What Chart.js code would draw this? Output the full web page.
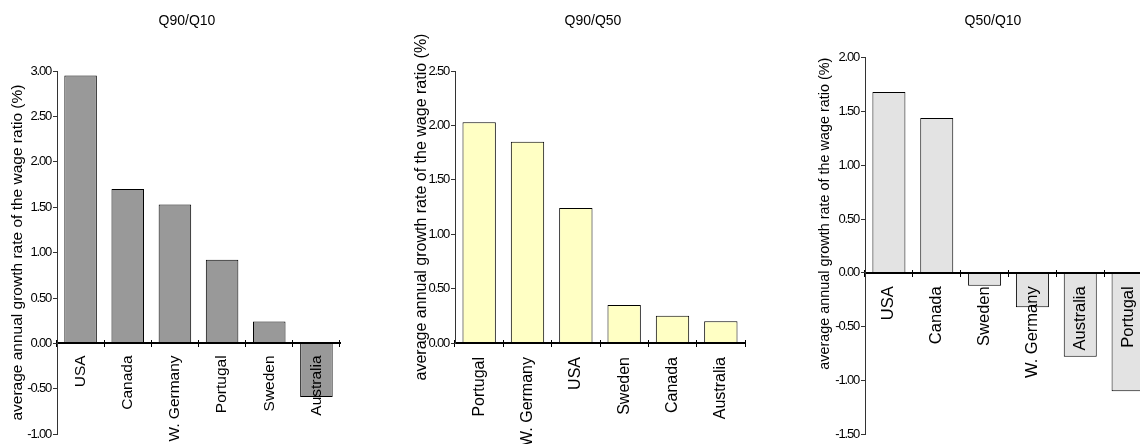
<!DOCTYPE html>
<html lang="en">
<head>
<meta charset="UTF-8">
<title>Growth of wage ratios</title>
<style>
  html, body { margin: 0; padding: 0; background: #fff; }
  body { position: relative; width: 1140px; height: 444px; overflow: hidden; }
  .panel { position: absolute; top: 0; }
  .panel canvas { display: block; }
</style>
</head>
<body>
<div class="panel" style="left:0px"><canvas id="chartQ9010" width="380" height="444"></canvas></div>
<div class="panel" style="left:380px"><canvas id="chartQ9050" width="380" height="444"></canvas></div>
<div class="panel" style="left:760px"><canvas id="chartQ5010" width="400" height="444"></canvas></div>

<script src="https://cdn.jsdelivr.net/npm/chart.js"></script>
<script>
// data
const q9010Countries = ['USA', 'Canada', 'W. Germany', 'Portugal', 'Sweden', 'Australia'];
const q9010Values = [2.95, 1.70, 1.53, 0.92, 0.24, -0.59];

const q9050Countries = ['Portugal', 'W. Germany', 'USA', 'Sweden', 'Canada', 'Australia'];
const q9050Values = [2.03, 1.85, 1.24, 0.35, 0.25, 0.20];

const q5010Countries = ['USA', 'Canada', 'Sweden', 'W. Germany', 'Australia', 'Portugal'];
const q5010Values = [1.68, 1.44, -0.12, -0.32, -0.78, -1.10];

const yAxisTitle = 'average annual growth rate of the wage ratio (%)';
const sansFont = '"Liberation Sans", Arial, sans-serif';

// heading above each panel
const panelTitle = {
    id: 'panelTitle',
    afterDraw(chart, args, opts) {
        const ctx = chart.ctx;
        ctx.save();
        ctx.letterSpacing = '0px';
        ctx.font = '14px ' + sansFont;
        ctx.fillStyle = '#000';
        ctx.textAlign = 'center';
        ctx.textBaseline = 'middle';
        ctx.fillText(opts.text, opts.x, opts.y);
        ctx.restore();
    }
};

// the value labels in the original are squeezed together ("3.00" looks like "300")
// everything drawn before the bars gets tight spacing, the rest is normal
const tightTicks = {
    id: 'tightTicks',
    beforeDraw(chart) { chart.ctx.letterSpacing = '-1.2px'; },
    beforeDatasetsDraw(chart) { chart.ctx.letterSpacing = '0px'; }
};

function buildChart(canvasId, p) {
    const ctx = document.getElementById(canvasId).getContext('2d');
    return new Chart(ctx, {
        type: 'bar',
        data: {
            labels: p.labels,
            datasets: [{
                data: p.values,
                backgroundColor: p.fill,
                borderColor: '#000',
                borderWidth: 1,
                barPercentage: 0.69,
                categoryPercentage: 1
            }]
        },
        options: {
            responsive: false,
            animation: false,
            layout: { padding: p.pad },
            plugins: {
                legend: { display: false },
                tooltip: { enabled: false },
                panelTitle: { text: p.title, x: p.titleX, y: 21 }
            },
            scales: {
                x: {
                    type: 'category',
                    position: { y: 0 },
                    offset: true,
                    grid: { offset: true, drawOnChartArea: false, tickLength: 3, color: '#000', z: 1 },
                    border: { color: '#000', width: 2, z: 1 },
                    ticks: {
                        minRotation: 90, maxRotation: 90, autoSkip: false,
                        padding: p.labelPad, color: '#000', z: 1,
                        font: { family: sansFont, size: p.labelSize }
                    }
                },
                // second copy of the category axis, only for the tick marks above the zero line
                x2: {
                    type: 'category',
                    position: { y: 0 },
                    offset: true,
                    grid: { offset: true, drawOnChartArea: false, tickLength: -3, color: '#000', z: 1 },
                    border: { display: false },
                    ticks: { display: false }
                },
                y: {
                    min: p.min,
                    max: p.max,
                    ticks: {
                        stepSize: 0.5, padding: 2, color: '#000',
                        font: { family: sansFont, size: 13 },
                        callback: v => v.toFixed(2)
                    },
                    grid: { drawOnChartArea: false, tickLength: 4, color: '#333', z: 1 },
                    border: { color: '#333', width: 1, z: 1 },
                    title: {
                        display: true,
                        text: yAxisTitle,
                        color: '#000',
                        align: p.yTitleAlign,
                        font: { family: sansFont, size: p.yTitleSize },
                        padding: { top: p.yTitlePad, bottom: 0 }
                    },
                    afterFit(scale) { scale.width = p.yWidth; }
                }
            }
        },
        plugins: [tightTicks, panelTitle]
    });
}

buildChart('chartQ9010', {
    labels: q9010Countries, values: q9010Values, fill: '#999999',
    title: 'Q90/Q10', titleX: 187,
    min: -1, max: 3,
    pad: { top: 71, right: 40, bottom: 7, left: 0 },
    yWidth: 57, yTitleSize: 15.5, yTitlePad: 8.7, yTitleAlign: 'center',
    labelSize: 15.5, labelPad: 9
});

buildChart('chartQ9050', {
    labels: q9050Countries, values: q9050Values, fill: '#FFFFC4',
    title: 'Q90/Q50', titleX: 213,
    min: 0, max: 2.5,
    pad: { top: 71, right: 15, bottom: 101, left: 0 },
    yWidth: 75, yTitleSize: 16, yTitlePad: 32, yTitleAlign: 'center',
    labelSize: 16, labelPad: 11
});

buildChart('chartQ5010', {
    labels: q5010Countries, values: q5010Values, fill: '#E3E3E3',
    title: 'Q50/Q10', titleX: 233,
    min: -1.5, max: 2,
    pad: { top: 57.7, right: 8, bottom: 7.3, left: 0 },
    yWidth: 105, yTitleSize: 14.4, yTitlePad: 56.4, yTitleAlign: 'end',
    labelSize: 16.5, labelPad: 10.5
});
</script>
</body>
</html>
